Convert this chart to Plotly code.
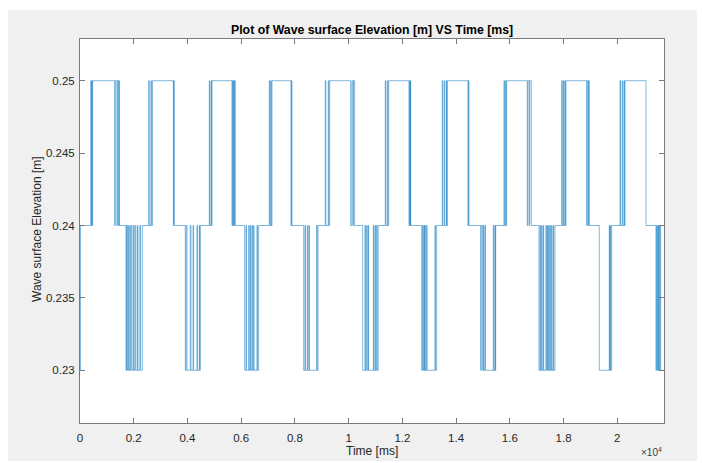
import plotly.graph_objects as go

# ---- data ----
time_ms = [
    0, 20,
    405, 418, 440, 452, 470,
    1292, 1310, 1375, 1390, 1440, 1452, 1463,
    1712, 1730, 1760, 1790, 1800, 1850, 1870, 1905, 1935, 1990, 2010, 2050, 2080, 2140, 2160, 2230, 2250, 2320,
    2557, 2580, 2640, 2660, 2700,
    3473, 3490, 3510,
    3919, 3950, 3983, 4105, 4131, 4206, 4230, 4355, 4370, 4441, 4455, 4478,
    4813, 4830, 4880, 4895, 4913,
    5657, 5675, 5700, 5715, 5745, 5760, 5780,
    6130, 6178, 6200, 6279, 6300, 6339, 6355, 6402, 6420, 6465, 6480, 6588, 6605, 6651,
    7046, 7065, 7100, 7120, 7146,
    7853, 7870, 7891,
    8326, 8374, 8390, 8460, 8480, 8523, 8540, 8810, 8825, 8858,
    9130, 9150, 9240, 9260, 9294,
    10075, 10120, 10160, 10180, 10224,
    10522, 10608, 10625, 10670, 10690, 10732, 10745, 10918, 10935, 10980, 11000, 11043, 11060, 11100,
    11363, 11380, 11440, 11460, 11490,
    12245, 12265, 12290, 12300, 12309,
    12718, 12755, 12770, 12804, 12820, 12841, 12855, 12904, 12920, 13213, 13230, 13276,
    13485, 13505, 13560, 13580, 13640, 13655, 13671,
    14441, 14460, 14479,
    14914, 14935, 14990, 15012, 15030, 15074, 15090, 15383, 15400, 15446, 15460, 15473,
    15781, 15800, 15840, 15860, 15882,
    16649, 16670, 16720, 16740, 16798,
    17084, 17121, 17140, 17183, 17200, 17245, 17260, 17344, 17360, 17394, 17410, 17443, 17460, 17493, 17510, 17555, 17570, 17617, 17630, 17680,
    17929, 17950, 17990, 18010, 18050, 18065, 18089,
    18859, 18880, 18920, 18935, 18956,
    19328, 19701, 19715, 19740, 19755, 19790,
    20099, 20120, 20180, 20200, 20250, 20265, 20285,
    21066,
    21438, 21460, 21488, 21510, 21525, 21545, 21562, 21590, 21612, 21740,
]
elevation_m = [
    0.23, 0.24,
    0.25, 0.24, 0.25, 0.24, 0.25,
    0.24, 0.25, 0.24, 0.25, 0.24, 0.25, 0.24,
    0.23, 0.24, 0.23, 0.24, 0.23, 0.24, 0.23, 0.24, 0.23, 0.24, 0.23, 0.24, 0.23, 0.24, 0.23, 0.24, 0.23, 0.24,
    0.25, 0.24, 0.25, 0.24, 0.25,
    0.24, 0.25, 0.24,
    0.23, 0.24, 0.23, 0.24, 0.23, 0.24, 0.23, 0.24, 0.23, 0.24, 0.23, 0.24,
    0.25, 0.24, 0.25, 0.24, 0.25,
    0.24, 0.25, 0.24, 0.25, 0.24, 0.25, 0.24,
    0.23, 0.24, 0.23, 0.24, 0.23, 0.24, 0.23, 0.24, 0.23, 0.24, 0.23, 0.24, 0.23, 0.24,
    0.25, 0.24, 0.25, 0.24, 0.25,
    0.24, 0.25, 0.24,
    0.23, 0.24, 0.23, 0.24, 0.23, 0.24, 0.23, 0.24, 0.23, 0.24,
    0.25, 0.24, 0.25, 0.24, 0.25,
    0.24, 0.25, 0.24, 0.25, 0.24,
    0.23, 0.24, 0.23, 0.24, 0.23, 0.24, 0.23, 0.24, 0.23, 0.24, 0.23, 0.24, 0.23, 0.24,
    0.25, 0.24, 0.25, 0.24, 0.25,
    0.24, 0.25, 0.24, 0.25, 0.24,
    0.23, 0.24, 0.23, 0.24, 0.23, 0.24, 0.23, 0.24, 0.23, 0.24, 0.23, 0.24,
    0.25, 0.24, 0.25, 0.24, 0.25, 0.24, 0.25,
    0.24, 0.25, 0.24,
    0.23, 0.24, 0.23, 0.24, 0.23, 0.24, 0.23, 0.24, 0.23, 0.24, 0.23, 0.24,
    0.25, 0.24, 0.25, 0.24, 0.25,
    0.24, 0.25, 0.24, 0.25, 0.24,
    0.23, 0.24, 0.23, 0.24, 0.23, 0.24, 0.23, 0.24, 0.23, 0.24, 0.23, 0.24, 0.23, 0.24, 0.23, 0.24, 0.23, 0.24, 0.23, 0.24,
    0.25, 0.24, 0.25, 0.24, 0.25, 0.24, 0.25,
    0.24, 0.25, 0.24, 0.25, 0.24,
    0.23, 0.24, 0.23, 0.24, 0.23, 0.24,
    0.25, 0.24, 0.25, 0.24, 0.25, 0.24, 0.25,
    0.24,
    0.23, 0.24, 0.23, 0.24, 0.23, 0.24, 0.23, 0.24, 0.23, 0.23,
]

x_tick_vals = [0, 2000, 4000, 6000, 8000, 10000, 12000, 14000, 16000, 18000, 20000]
x_tick_text = ["0", "0.2", "0.4", "0.6", "0.8", "1", "1.2", "1.4", "1.6", "1.8", "2"]
y_tick_vals = [0.23, 0.235, 0.24, 0.245, 0.25]
y_tick_text = ["0.23", "0.235", "0.24", "0.245", "0.25"]

title_text = "Plot of Wave surface Elevation [m] VS Time [ms]"
x_label = "Time [ms]"
y_label = "Wave surface Elevation [m]"

FONT = "Liberation Sans, Arial, sans-serif"
TXT = "#262626"
AX = "#7a7a7a"

fig = go.Figure()
fig.add_trace(go.Scatter(
    x=time_ms, y=elevation_m, mode="lines",
    line=dict(color="#0072BD", width=0.5, shape="hv"),
    hoverinfo="skip", showlegend=False,
))

W, H = 702, 463
L, R, T, B = 80, 38, 39, 40
pw, ph = W - L - R, H - T - B

def px(xp):
    return (xp - L) / pw

def py(yp):
    return (H - B - yp) / ph

axis_common = dict(
    showgrid=False, zeroline=False, showline=True, linecolor=AX, linewidth=1,
    mirror="ticks", ticks="inside", ticklen=5, tickwidth=1, tickcolor=AX,
    tickfont=dict(family=FONT, size=11.5, color=TXT),
)

fig.update_xaxes(range=[0, 21738], tickvals=x_tick_vals, ticktext=x_tick_text,
                 ticklabelstandoff=4, **axis_common)
fig.update_yaxes(range=[0.22636, 0.25288], tickvals=y_tick_vals, ticktext=y_tick_text,
                 ticklabelstandoff=2, **axis_common)

# white outer border around the grey figure area
border = [
    (-0.5, px(8), -0.5, 1.5),
    (px(697), 1.5, -0.5, 1.5),
    (-0.5, 1.5, py(10), 1.5),
    (-0.5, 1.5, -0.5, py(461)),
]
shapes = [dict(type="rect", xref="paper", yref="paper", x0=a, x1=b, y0=c, y1=d,
               fillcolor="white", line=dict(width=0), layer="below") for a, b, c, d in border]

annotations = [
    dict(text="<b>" + title_text + "</b>", xref="paper", yref="paper", x=0.5, y=py(30),
         xanchor="center", yanchor="middle", showarrow=False,
         font=dict(family=FONT, size=12.3, color="#000000")),
    dict(text=x_label, xref="paper", yref="paper", x=0.5, y=py(451),
         xanchor="center", yanchor="middle", showarrow=False,
         font=dict(family=FONT, size=12, color=TXT)),
    dict(text=y_label, xref="paper", yref="paper", x=px(37), y=py(229),
         xanchor="center", yanchor="middle", showarrow=False, textangle=-90,
         font=dict(family=FONT, size=12, color=TXT)),
    dict(text="×10<sup>4</sup>", xref="paper", yref="paper", x=px(664), y=py(452),
         xanchor="right", yanchor="middle", showarrow=False,
         font=dict(family=FONT, size=10, color="#404040")),
]

fig.update_layout(
    width=W, height=H, autosize=False,
    margin=dict(l=L, r=R, t=T, b=B, pad=0),
    paper_bgcolor="#f0f0f0", plot_bgcolor="white",
    shapes=shapes, annotations=annotations, showlegend=False,
)

fig.write_html("out.html", include_plotlyjs=True, full_html=True,
               config={"displayModeBar": False, "responsive": False})
